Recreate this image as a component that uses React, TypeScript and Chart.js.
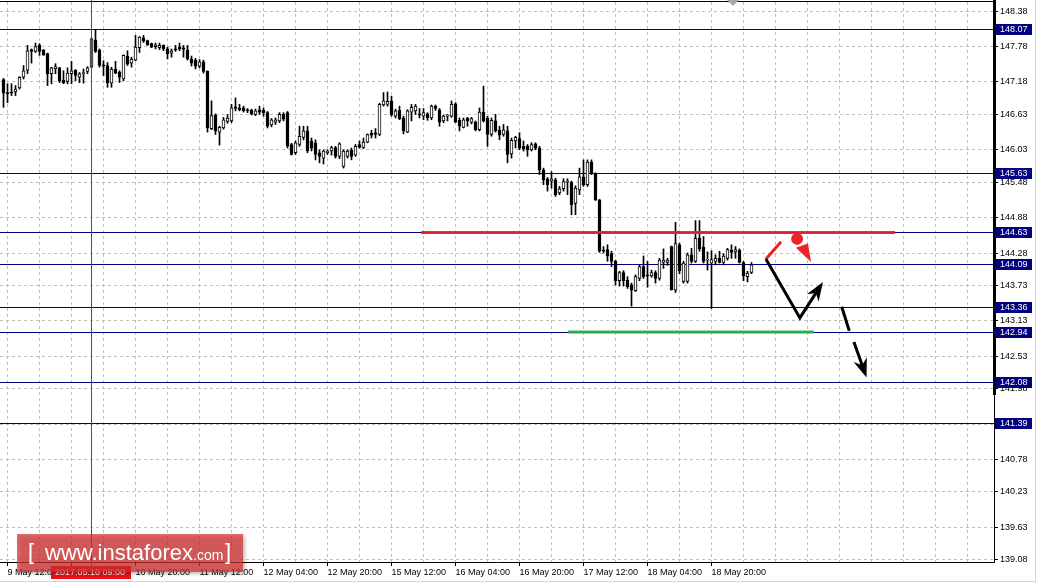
import React, { useEffect, useRef } from "react";
import { Chart, registerables } from "chart.js";
Chart.register(...registerables);

// H1 candles, bar index 0 = 9 May 11:00
const opens = [
  147.22,147.00,147.01,147.01,147.08,147.26,147.38,147.73,147.70,147.80,
  147.72,147.66,147.32,147.40,147.42,147.21,147.19,147.32,147.38,147.26,
  147.32,147.36,147.43,147.89,147.72,147.47,147.46,147.16,147.40,147.35,
  147.23,147.62,147.50,147.55,147.76,147.93,147.88,147.83,147.78,147.76,
  147.80,147.74,147.67,147.74,147.77,147.76,147.72,147.57,147.55,147.45,
  147.52,147.36,146.39,146.62,146.33,146.40,146.51,146.52,146.76,146.74,
  146.74,146.71,146.70,146.63,146.71,146.70,146.66,146.45,146.50,146.52,
  146.63,146.66,146.12,145.98,146.12,146.24,146.35,146.18,146.15,145.98,
  145.89,145.98,146.01,146.07,145.92,145.75,145.92,146.02,145.94,146.12,
  146.07,146.16,146.31,146.32,146.29,146.79,146.80,146.86,146.60,146.70,
  146.57,146.33,146.67,146.69,146.64,146.60,146.64,146.57,146.77,146.71,
  146.52,146.60,146.60,146.81,146.53,146.41,146.57,146.50,146.50,146.37,
  146.67,146.57,146.29,146.52,146.36,146.29,146.35,145.96,146.18,146.22,
  146.09,146.09,146.03,146.13,146.06,145.69,145.54,145.50,145.52,145.30,
  145.37,145.48,145.48,145.12,145.35,145.57,145.44,145.82,145.63,145.18,
  144.33,144.34,144.27,144.14,143.81,143.95,143.82,143.74,143.64,143.85,
  144.05,143.91,143.89,143.95,143.85,144.12,144.12,144.39,143.65,144.42,
  143.80,143.80,144.25,144.14,144.53,144.38,144.16,144.11,144.14,144.19,
  144.12,144.19,144.33,144.30,144.33,144.12,143.88,143.95,
];
const highs = [
  147.24,147.15,147.15,147.12,147.27,147.46,147.80,147.74,147.84,147.83,
  147.73,147.67,147.43,147.49,147.43,147.37,147.42,147.53,147.39,147.34,
  147.40,147.44,147.93,148.07,147.74,147.54,147.51,147.43,147.53,147.37,
  147.64,147.71,147.60,147.97,147.95,147.97,147.89,147.84,147.84,147.84,
  147.81,147.77,147.74,147.80,147.84,147.80,147.80,147.62,147.58,147.56,
  147.55,147.37,146.86,146.64,146.43,146.58,146.63,146.80,146.91,146.80,
  146.77,146.73,146.72,146.72,146.77,146.74,146.68,146.56,146.57,146.66,
  146.66,146.68,146.14,146.18,146.43,146.43,146.43,146.23,146.20,146.03,
  146.03,146.03,146.09,146.09,146.15,146.03,146.03,146.06,146.12,146.18,
  146.23,146.30,146.36,146.39,146.82,147.00,147.01,146.94,146.72,146.77,
  146.60,146.71,146.80,146.80,146.73,146.73,146.66,146.79,146.79,146.73,
  146.62,146.63,146.86,146.83,146.57,146.57,146.58,146.58,146.52,146.74,
  147.11,146.60,146.57,146.63,146.43,146.46,146.43,146.23,146.26,146.32,
  146.18,146.12,146.15,146.15,146.09,145.72,145.56,145.66,145.55,145.41,
  145.54,145.54,145.50,145.42,145.72,145.86,145.86,145.86,145.64,145.19,
  144.39,144.42,144.31,144.16,143.97,143.98,143.88,143.77,143.91,144.08,
  144.23,144.14,143.99,143.98,144.19,144.35,144.19,144.40,144.80,144.45,
  144.14,144.28,144.36,144.83,144.83,144.56,144.30,144.32,144.25,144.31,
  144.27,144.36,144.42,144.39,144.35,144.14,143.97,144.12,
];
const lows = [
  146.75,146.83,146.95,146.95,147.06,147.23,147.32,147.50,147.68,147.63,
  147.63,147.12,147.15,147.32,147.17,147.15,147.15,147.15,147.20,147.17,
  147.16,147.32,147.42,147.68,147.43,147.29,147.09,147.09,147.32,147.17,
  147.20,147.46,147.43,147.54,147.68,147.85,147.80,147.76,147.74,147.73,
  147.71,147.57,147.60,147.70,147.71,147.60,147.55,147.45,147.40,147.42,
  147.33,146.33,146.37,146.29,146.11,146.38,146.48,146.49,146.69,146.69,
  146.67,146.66,146.62,146.61,146.63,146.60,146.40,146.42,146.46,146.49,
  146.52,146.06,145.94,145.95,146.09,146.20,145.98,146.01,145.86,145.81,
  145.79,145.95,145.94,145.89,145.88,145.72,145.89,145.86,145.92,146.06,
  146.05,146.15,146.23,146.23,146.27,146.77,146.77,146.60,146.57,146.54,
  146.30,146.32,146.52,146.63,146.57,146.54,146.53,146.54,146.70,146.43,
  146.49,146.52,146.58,146.49,146.35,146.40,146.43,146.47,146.35,146.35,
  146.50,146.09,146.26,146.33,146.20,146.26,145.81,145.89,146.06,146.03,
  146.01,145.92,146.01,146.03,145.61,145.44,145.33,145.38,145.24,145.27,
  145.33,145.27,144.93,144.93,145.27,145.41,145.41,145.61,145.17,144.29,
  144.28,144.14,144.05,143.74,143.72,143.72,143.68,143.38,143.63,143.81,
  143.85,143.70,143.87,143.77,143.82,144.02,144.07,143.65,143.61,143.93,
  143.77,143.77,144.11,144.12,144.31,144.11,143.99,143.34,144.08,144.11,
  144.08,144.16,144.19,144.19,144.11,143.81,143.79,143.93,
];
const closes = [
  146.99,146.98,146.99,147.06,147.26,147.37,147.71,147.70,147.78,147.70,
  147.64,147.32,147.42,147.44,147.20,147.17,147.33,147.37,147.29,147.32,
  147.34,147.42,147.91,147.70,147.46,147.45,147.17,147.40,147.33,147.26,
  147.63,147.48,147.57,147.77,147.94,147.87,147.81,147.77,147.81,147.80,
  147.74,147.66,147.71,147.72,147.74,147.73,147.57,147.50,147.45,147.52,
  147.36,146.40,146.61,146.35,146.41,146.54,146.57,146.74,146.73,146.71,
  146.69,146.69,146.64,146.69,146.67,146.66,146.43,146.54,146.54,146.63,
  146.55,146.09,145.95,146.15,146.26,146.35,146.01,146.06,145.95,145.92,
  146.01,146.01,146.07,145.92,146.13,146.01,146.01,145.92,146.09,146.07,
  146.16,146.29,146.28,146.29,146.80,146.86,146.85,146.62,146.69,146.56,
  146.35,146.69,146.75,146.77,146.62,146.66,146.57,146.77,146.73,146.50,
  146.60,146.61,146.80,146.50,146.43,146.54,146.52,146.56,146.37,146.67,
  146.52,146.29,146.53,146.35,146.28,146.37,145.95,146.19,146.24,146.06,
  146.05,146.03,146.12,146.06,145.69,145.52,145.44,145.54,145.27,145.37,
  145.49,145.49,145.10,145.38,145.57,145.44,145.82,145.63,145.18,144.31,
  144.31,144.23,144.14,143.81,143.95,143.81,143.71,143.65,143.88,144.05,
  143.88,143.89,143.95,143.85,144.16,144.16,144.16,143.66,144.44,143.98,
  144.11,144.25,144.14,144.53,144.35,144.14,144.17,144.17,144.19,144.12,
  144.23,144.34,144.29,144.34,144.12,143.89,143.94,144.08,
];

const xLabelBars = [1, 17, 33, 49, 65, 81, 97, 113, 129, 145, 161, 177];
const xLabelTexts = [
  "9 May 12:00", "10 May 04:00", "10 May 20:00", "11 May 12:00", "12 May 04:00", "12 May 20:00",
  "15 May 12:00", "16 May 04:00", "16 May 20:00", "17 May 12:00", "18 May 04:00", "18 May 20:00",
];
const xGridBars = Array.from({ length: 31 }, (_, i) => 1 + 8 * i);
const yTicks = [148.38, 147.78, 147.18, 146.63, 146.03, 145.48, 144.88, 144.28, 143.73, 143.13, 142.53, 141.98, 141.38, 140.78, 140.23, 139.63, 139.08];
const levels = [148.07, 145.63, 144.63, 144.09, 143.36, 142.94, 142.08, 141.39];

const crossBar = 22;
const crossText = "2017.05.10 09:00";

const resistance = { from: 104.4, to: 222.9, price: 144.63 };
const support = { from: 141.1, to: 202.6, price: 142.94 };
const redStroke = [[190.6, 144.18], [194.4, 144.47]];
const redDot = [198.4, 144.52];
const redHead = [[198.1, 144.37], [201.1, 144.44], [201.9, 144.13]];
const blackPath = [[190.6, 144.18], [199.1, 143.18], [204.6, 143.76]];
const dashA = [[209.55, 143.37], [211.45, 142.96]];
const dashB = [[212.6, 142.77], [215.6, 142.2]];
const scaleBarLow = 141.87;

const FONT = '"Liberation Sans", Arial, sans-serif';

function arrowHead(ctx: CanvasRenderingContext2D, x0: number, y0: number, x1: number, y1: number, len: number, half: number) {
  const a = Math.atan2(y1 - y0, x1 - x0);
  const c = Math.cos(a), s = Math.sin(a);
  const bx = x1 - len * c, by = y1 - len * s;
  ctx.beginPath();
  ctx.moveTo(x1 + 2 * c, y1 + 2 * s);
  ctx.lineTo(bx + half * s, by - half * c);
  ctx.lineTo(x1 - len * 0.65 * c, y1 - len * 0.65 * s);
  ctx.lineTo(bx - half * s, by + half * c);
  ctx.closePath();
  ctx.fill();
}

const overlay = {
  id: "overlay",
  beforeDatasetsDraw(chart: any) {
    const { ctx, chartArea: a, scales } = chart;
    const y = scales.y;
    ctx.save();
    ctx.fillStyle = "#000080";
    levels.forEach((v) => {
      const py = Math.floor(y.getPixelForValue(v));
      ctx.fillRect(a.left, py, a.right - a.left, 1);
    });
    ctx.restore();
  },
  afterDatasetsDraw(chart: any) {
    const { ctx, scales } = chart;
    const x = scales.x, y = scales.y;
    const P = (p: number[]) => [x.getPixelForValue(p[0]), y.getPixelForValue(p[1])];
    ctx.save();
    ctx.lineCap = "butt";
    ctx.lineWidth = 3;
    ctx.strokeStyle = "rgba(236,32,38,0.95)";
    let yy = y.getPixelForValue(resistance.price);
    ctx.beginPath(); ctx.moveTo(x.getPixelForValue(resistance.from), yy); ctx.lineTo(x.getPixelForValue(resistance.to), yy); ctx.stroke();
    ctx.strokeStyle = "rgba(40,176,72,0.95)";
    yy = y.getPixelForValue(support.price);
    ctx.beginPath(); ctx.moveTo(x.getPixelForValue(support.from), yy); ctx.lineTo(x.getPixelForValue(support.to), yy); ctx.stroke();

    ctx.strokeStyle = "#ee2229";
    ctx.fillStyle = "#ee2229";
    ctx.lineWidth = 3;
    const a0 = P(redStroke[0]), a1 = P(redStroke[1]);
    ctx.beginPath(); ctx.moveTo(a0[0], a0[1]); ctx.lineTo(a1[0], a1[1]); ctx.stroke();
    const d = P(redDot);
    ctx.beginPath(); ctx.arc(d[0], d[1], 6, 0, Math.PI * 2); ctx.fill();
    const h = redHead.map(P);
    ctx.beginPath(); ctx.moveTo(h[0][0], h[0][1]); ctx.lineTo(h[1][0], h[1][1]); ctx.lineTo(h[2][0], h[2][1]); ctx.closePath(); ctx.fill();

    ctx.strokeStyle = "#000";
    ctx.fillStyle = "#000";
    ctx.lineWidth = 3;
    ctx.lineJoin = "miter";
    const bp = blackPath.map(P);
    ctx.beginPath(); ctx.moveTo(bp[0][0], bp[0][1]); ctx.lineTo(bp[1][0], bp[1][1]);
    const ang = Math.atan2(bp[2][1] - bp[1][1], bp[2][0] - bp[1][0]);
    ctx.lineTo(bp[2][0] - 10 * Math.cos(ang), bp[2][1] - 10 * Math.sin(ang));
    ctx.stroke();
    arrowHead(ctx, bp[1][0], bp[1][1], bp[2][0], bp[2][1], 17, 7);

    const da = dashA.map(P), db = dashB.map(P);
    ctx.beginPath(); ctx.moveTo(da[0][0], da[0][1]); ctx.lineTo(da[1][0], da[1][1]); ctx.stroke();
    const ang2 = Math.atan2(db[1][1] - db[0][1], db[1][0] - db[0][0]);
    ctx.beginPath(); ctx.moveTo(db[0][0], db[0][1]); ctx.lineTo(db[1][0] - 10 * Math.cos(ang2), db[1][1] - 10 * Math.sin(ang2)); ctx.stroke();
    arrowHead(ctx, db[0][0], db[0][1], db[1][0], db[1][1], 17, 7);

    const cx = Math.floor(x.getPixelForValue(crossBar));
    ctx.fillStyle = "#e3101a";
    ctx.fillRect(cx, 0, 1, 567);
    ctx.restore();
  },
  afterDraw(chart: any) {
    const { ctx, chartArea: a, scales } = chart;
    const x = scales.x, y = scales.y;
    ctx.save();
    ctx.fillStyle = "#000";
    ctx.fillRect(0, a.top - 1, a.right + 1, 1);
    ctx.fillRect(a.right - 1, 0, 3, Math.round(y.getPixelForValue(scaleBarLow)));
    ctx.fillStyle = "#a8a8a8";
    ctx.beginPath(); ctx.moveTo(727, 0); ctx.lineTo(739, 0); ctx.lineTo(733, 6); ctx.closePath(); ctx.fill();

    ctx.font = `9px ${FONT}`;
    ctx.textBaseline = "middle";
    ctx.textAlign = "left";
    levels.forEach((v) => {
      const py = Math.floor(y.getPixelForValue(v));
      ctx.fillStyle = "#000080";
      ctx.fillRect(a.right + 1, py - 5, 37, 11);
      ctx.fillStyle = "#ffffff";
      ctx.fillText(v.toFixed(2), a.right + 6, py + 0.5);
    });

    const cx = Math.floor(x.getPixelForValue(crossBar));
    ctx.fillStyle = "#e8101a";
    ctx.fillRect(cx - 40, 566, 80, 13);
    ctx.fillStyle = "#ffffff";
    ctx.textBaseline = "middle";
    ctx.fillText(crossText, cx - 36, 573);

    ctx.save();
    ctx.shadowColor = "rgba(0,0,0,0.35)";
    ctx.shadowOffsetX = 2;
    ctx.shadowOffsetY = 2;
    ctx.shadowBlur = 3;
    ctx.fillStyle = "rgba(216,48,48,0.72)";
    ctx.fillRect(17, 534, 226, 38);
    ctx.restore();
    ctx.fillStyle = "#ffffff";
    ctx.textBaseline = "alphabetic";
    ctx.font = `22px ${FONT}`;
    ctx.fillText("[", 28, 559);
    ctx.fillText("www.instaforex", 45, 560);
    ctx.fillText("]", 225, 559);
    ctx.font = `14px ${FONT}`;
    ctx.fillText(".com", 193, 560);

    ctx.fillStyle = "#d4d4d4";
    ctx.fillRect(0, 581, 1036, 1);
    ctx.fillRect(1035, 0, 1, 582);
    ctx.restore();
  },
};

export default function App() {
  const ref = useRef<HTMLCanvasElement | null>(null);
  useEffect(() => {
    if (!ref.current) return;
    const chart = new Chart(ref.current, {
      type: "bar",
      data: {
        datasets: [
          {
            label: "body",
            data: opens.map((o, i) => ({ x: i, y: [o, closes[i]] })) as any,
            backgroundColor: opens.map((o, i) => (closes[i] >= o ? "#ffffff" : "#000000")),
            borderColor: "#000000",
            borderWidth: 1,
            borderSkipped: false,
            barThickness: 3,
            minBarLength: 1,
            grouped: false,
            order: 0,
          } as any,
          {
            label: "wick",
            data: lows.map((l, i) => ({ x: i, y: [l, highs[i]] })) as any,
            backgroundColor: "#000000",
            borderWidth: 0,
            barThickness: 1,
            grouped: false,
            order: 1,
          } as any,
        ],
      },
      options: {
        responsive: false,
        animation: false,
        events: [],
        layout: { padding: { top: 2, left: 0, right: 0, bottom: 0 } },
        plugins: { legend: { display: false }, tooltip: { enabled: false } },
        scales: {
          x: {
            type: "linear",
            min: -0.875,
            max: 247.625,
            offset: false,
            afterBuildTicks: (s: any) => { s.ticks = xGridBars.map((v) => ({ value: v })); },
            afterFit: (s: any) => { s.height = 23; s.paddingLeft = 0; s.paddingRight = 0; },
            grid: {
              offset: false,
              color: "#c0c0c0",
              drawTicks: true,
              tickLength: 4,
              tickColor: (c: any) => (c.tick && xLabelBars.includes(c.tick.value) ? "#000000" : "rgba(0,0,0,0)"),
              tickBorderDash: [],
            },
            border: { display: true, color: "#000000", dash: [3, 3] },
            ticks: {
              autoSkip: false,
              maxRotation: 0,
              minRotation: 0,
              align: "start",
              padding: 1,
              color: "#000000",
              font: { family: FONT, size: 9 },
              callback: (v: any) => {
                const i = xLabelBars.indexOf(Number(v));
                return i >= 0 ? xLabelTexts[i] : "";
              },
            },
          } as any,
          y: {
            type: "linear",
            position: "right",
            min: 139.042,
            max: 148.536,
            afterBuildTicks: (s: any) => { s.ticks = yTicks.map((v) => ({ value: v })); },
            afterFit: (s: any) => { s.width = 43; s.paddingTop = 0; s.paddingBottom = 0; },
            grid: { color: "#c0c0c0", drawTicks: true, tickLength: 4, tickColor: "#000000", tickBorderDash: [] },
            border: { display: true, color: "#000000", dash: [3, 3] },
            ticks: {
              padding: 2,
              color: "#000000",
              font: { family: FONT, size: 9 },
              callback: (v: any) => Number(v).toFixed(2),
            },
          } as any,
        },
      },
      plugins: [overlay as any],
    });
    return () => chart.destroy();
  }, []);
  return (
    <div style={{ position: "absolute", left: 0, top: 0, width: 1037, height: 585, background: "#ffffff" }}>
      <canvas ref={ref} width={1037} height={585} style={{ display: "block", width: 1037, height: 585 }} />
    </div>
  );
}
